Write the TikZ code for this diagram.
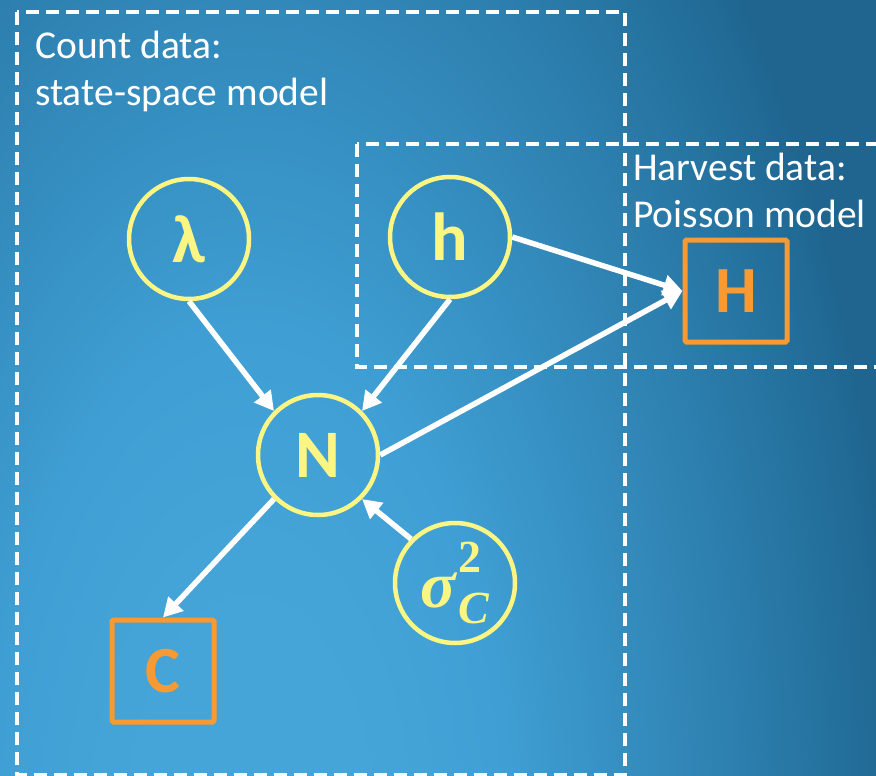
\documentclass[tikz,border=0pt]{standalone}
\usepackage{fontspec}
\setmainfont{Carlito}
\newfontfamily\sigf{Liberation Serif}
\usetikzlibrary{arrows.meta}
\definecolor{bgA}{HTML}{46A5D8}
\definecolor{bgB}{HTML}{40A0D5}
\definecolor{bgC}{HTML}{2E82B2}
\definecolor{bgD}{HTML}{216B96}
\definecolor{bgE}{HTML}{1F6590}
\definecolor{nodeyellow}{HTML}{FBF584}
\definecolor{obsorange}{HTML}{F79A33}
\pgfdeclareradialshading{bgshade}{\pgfpoint{0bp}{0bp}}{color(0bp)=(bgA); color(4bp)=(bgA); color(9.5bp)=(bgB); color(18bp)=(bgC); color(24bp)=(bgD); color(25bp)=(bgE); color(50bp)=(bgE)}
\tikzset{
  latent/.style={circle, draw=nodeyellow, line width=4.5pt, minimum size=120pt, inner sep=0pt,
    text=nodeyellow, font=\fontsize{68}{68}\selectfont\bfseries},
  observed/.style={rectangle, draw=obsorange, line width=5pt, minimum size=102pt, inner sep=0pt,
    rounded corners=1.5pt, text=obsorange, font=\fontsize{66}{66}\selectfont\bfseries},
  plate/.style={draw=white, line width=4pt, dash pattern=on 13pt off 7pt},
  platelabel/.style={text=white, align=left, inner sep=0pt, anchor=north west,
    font=\fontsize{39.5}{47}\selectfont},
  link/.style={draw=white, line width=5.5pt, -{Triangle[length=19pt,width=20pt]}},
}
\begin{document}
\begin{tikzpicture}[x=1pt,y=-1pt]
\useasboundingbox (0,0) rectangle (876,776);
\clip (0,0) rectangle (876,776);
\fill[bgE] (0,0) rectangle (876,776);
\shade[shading=bgshade] (250,850) ellipse [x radius=650, y radius=1300];

% plates
\draw[plate] (17,12) rectangle (625,775);
\draw[plate] (357,144) rectangle (895,367);
\node[platelabel] (countlab) at (35,31) {Count data:\\state-space model};
\node[platelabel] (harvlab) at (633,153) {Harvest data:\\Poisson model};

% nodes
\node[latent] (lam) at (189,239) {λ};
\node[latent] (h) at (450,237) {h};
\node[latent] (N) at (318,455) {N};
\node[latent] (sig) at (455,583) {\sigf\bfseries\itshape\fontsize{66}{66}\selectfont σ\kern3pt\raisebox{-16pt}{\fontsize{46}{46}\selectfont\vbox{\hbox{\upshape 2}\kern5pt\hbox{C}}}};
\node[observed] (H) at (736,291) {H};
\node[observed] (C) at (163,671) {C};

% connectors
\draw[link] (lam.south) -- (N.north west);
\draw[link] (h.south) -- (N.north east);
\draw[link] (h.east) -- (H.west);
\draw[link] (N.east) -- (H.west);
\draw[link] (sig.north west) -- (N.south east);
\draw[link] (N.south west) -- (C.north);
\end{tikzpicture}
\end{document}
